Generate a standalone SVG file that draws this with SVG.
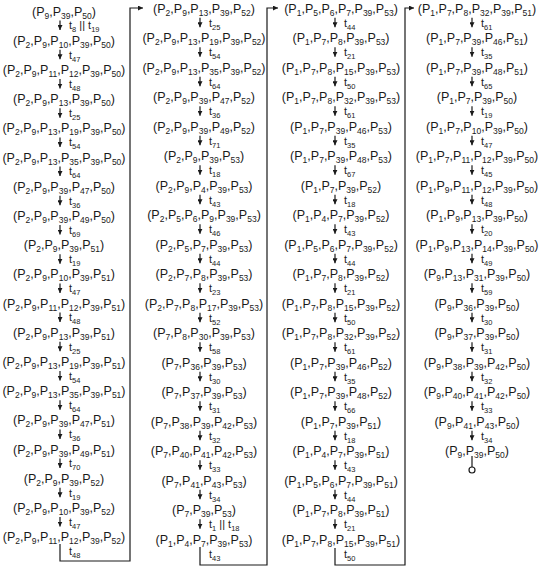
<svg xmlns="http://www.w3.org/2000/svg" width="540" height="566" viewBox="0 0 540 566">
<style>
.m{font-family:"Liberation Sans",Arial,sans-serif;font-size:12.5px;fill:#1a1a1a;text-anchor:middle}
.s{font-size:8.5px;baseline-shift:-3px}
.t{font-family:"Liberation Sans",Arial,sans-serif;font-size:11px;fill:#1a1a1a}
.u{font-size:7.5px;baseline-shift:-2.5px}
.c line,.c path{stroke:#1a1a1a;stroke-width:1.2;fill:none}
.c line{marker-end:url(#ah)}
</style>
<defs>
<marker id="ah" viewBox="0 0 6 6" refX="6" refY="3" markerWidth="5" markerHeight="5" markerUnits="userSpaceOnUse" orient="auto"><path d="M0,0 L6,3 L0,6 z" fill="#1a1a1a"/></marker>
</defs>
<rect width="540" height="566" fill="#fff"/>
<g id="connectors" class="c">
<line x1="60" y1="20.6" x2="60" y2="30.1"/><line x1="60" y1="49.8" x2="60" y2="59.3"/><line x1="60" y1="79" x2="60" y2="88.5"/><line x1="60" y1="108.2" x2="60" y2="117.7"/><line x1="60" y1="137.4" x2="60" y2="146.9"/><line x1="60" y1="166.6" x2="60" y2="176.1"/><line x1="60" y1="195.8" x2="60" y2="205.3"/><line x1="60" y1="225" x2="60" y2="234.5"/><line x1="60" y1="254.2" x2="60" y2="263.7"/><line x1="60" y1="283.4" x2="60" y2="292.9"/><line x1="60" y1="312.6" x2="60" y2="322.1"/><line x1="60" y1="341.8" x2="60" y2="351.3"/><line x1="60" y1="371" x2="60" y2="380.5"/><line x1="60" y1="400.2" x2="60" y2="409.7"/><line x1="60" y1="429.4" x2="60" y2="438.9"/><line x1="60" y1="458.6" x2="60" y2="468.1"/><line x1="60" y1="487.8" x2="60" y2="497.3"/><line x1="60" y1="517" x2="60" y2="526.5"/>
<line x1="200" y1="17.8" x2="200" y2="27.3"/><line x1="200" y1="47.3" x2="200" y2="56.8"/><line x1="200" y1="76.8" x2="200" y2="86.3"/><line x1="200" y1="106.3" x2="200" y2="115.8"/><line x1="200" y1="135.8" x2="200" y2="145.3"/><line x1="200" y1="165.3" x2="200" y2="174.8"/><line x1="200" y1="194.8" x2="200" y2="204.3"/><line x1="200" y1="224.3" x2="200" y2="233.8"/><line x1="200" y1="253.8" x2="200" y2="263.3"/><line x1="200" y1="283.3" x2="200" y2="292.8"/><line x1="200" y1="312.8" x2="200" y2="322.3"/><line x1="200" y1="342.3" x2="200" y2="351.8"/><line x1="200" y1="371.8" x2="200" y2="381.3"/><line x1="200" y1="401.3" x2="200" y2="410.8"/><line x1="200" y1="430.8" x2="200" y2="440.3"/><line x1="200" y1="460.3" x2="200" y2="469.8"/><line x1="200" y1="489.8" x2="200" y2="499.3"/><line x1="200" y1="519.3" x2="200" y2="528.8"/>
<line x1="335" y1="17.8" x2="335" y2="27.3"/><line x1="335" y1="47.3" x2="335" y2="56.8"/><line x1="335" y1="76.8" x2="335" y2="86.3"/><line x1="335" y1="106.3" x2="335" y2="115.8"/><line x1="335" y1="135.8" x2="335" y2="145.3"/><line x1="335" y1="165.3" x2="335" y2="174.8"/><line x1="335" y1="194.8" x2="335" y2="204.3"/><line x1="335" y1="224.3" x2="335" y2="233.8"/><line x1="335" y1="253.8" x2="335" y2="263.3"/><line x1="335" y1="283.3" x2="335" y2="292.8"/><line x1="335" y1="312.8" x2="335" y2="322.3"/><line x1="335" y1="342.3" x2="335" y2="351.8"/><line x1="335" y1="371.8" x2="335" y2="381.3"/><line x1="335" y1="401.3" x2="335" y2="410.8"/><line x1="335" y1="430.8" x2="335" y2="440.3"/><line x1="335" y1="460.3" x2="335" y2="469.8"/><line x1="335" y1="489.8" x2="335" y2="499.3"/><line x1="335" y1="519.3" x2="335" y2="528.8"/>
<line x1="472" y1="17.8" x2="472" y2="27.3"/><line x1="472" y1="47.3" x2="472" y2="56.8"/><line x1="472" y1="76.8" x2="472" y2="86.3"/><line x1="472" y1="106.3" x2="472" y2="115.8"/><line x1="472" y1="135.8" x2="472" y2="145.3"/><line x1="472" y1="165.3" x2="472" y2="174.8"/><line x1="472" y1="194.8" x2="472" y2="204.3"/><line x1="472" y1="224.3" x2="472" y2="233.8"/><line x1="472" y1="253.8" x2="472" y2="263.3"/><line x1="472" y1="283.3" x2="472" y2="292.8"/><line x1="472" y1="312.8" x2="472" y2="322.3"/><line x1="472" y1="342.3" x2="472" y2="351.8"/><line x1="472" y1="371.8" x2="472" y2="381.3"/><line x1="472" y1="401.3" x2="472" y2="410.8"/><line x1="472" y1="430.8" x2="472" y2="440.3"/>
<path d="M60,544 V561 H130 V8 H143" marker-end="url(#ah)"/>
<path d="M200,547 V565 H267 V8 H278" marker-end="url(#ah)"/>
<path d="M335,548 V565 H405 V8 H414" marker-end="url(#ah)"/>
<path d="M472,456 V467"/>
<circle cx="472" cy="470" r="3" fill="#fff" stroke="#1a1a1a" stroke-width="1.2"/>
</g>
<g id="labels" class="t">
<text x="69" y="29.4">t<tspan class="u">8</tspan> || t<tspan class="u">19</tspan></text>
<text x="69" y="58.6">t<tspan class="u">47</tspan></text>
<text x="69" y="87.8">t<tspan class="u">48</tspan></text>
<text x="69" y="117">t<tspan class="u">25</tspan></text>
<text x="69" y="146.2">t<tspan class="u">54</tspan></text>
<text x="69" y="175.4">t<tspan class="u">64</tspan></text>
<text x="69" y="204.6">t<tspan class="u">36</tspan></text>
<text x="69" y="233.8">t<tspan class="u">69</tspan></text>
<text x="69" y="263">t<tspan class="u">19</tspan></text>
<text x="69" y="292.2">t<tspan class="u">47</tspan></text>
<text x="69" y="321.4">t<tspan class="u">48</tspan></text>
<text x="69" y="350.6">t<tspan class="u">25</tspan></text>
<text x="69" y="379.8">t<tspan class="u">54</tspan></text>
<text x="69" y="409">t<tspan class="u">64</tspan></text>
<text x="69" y="438.2">t<tspan class="u">36</tspan></text>
<text x="69" y="467.4">t<tspan class="u">70</tspan></text>
<text x="69" y="496.6">t<tspan class="u">19</tspan></text>
<text x="69" y="525.8">t<tspan class="u">47</tspan></text>
<text x="69" y="555">t<tspan class="u">48</tspan></text>
<text x="209" y="26.6">t<tspan class="u">25</tspan></text>
<text x="209" y="56.1">t<tspan class="u">54</tspan></text>
<text x="209" y="85.6">t<tspan class="u">64</tspan></text>
<text x="209" y="115.1">t<tspan class="u">36</tspan></text>
<text x="209" y="144.6">t<tspan class="u">71</tspan></text>
<text x="209" y="174.1">t<tspan class="u">18</tspan></text>
<text x="209" y="203.6">t<tspan class="u">43</tspan></text>
<text x="209" y="233.1">t<tspan class="u">46</tspan></text>
<text x="209" y="262.6">t<tspan class="u">44</tspan></text>
<text x="209" y="292.1">t<tspan class="u">23</tspan></text>
<text x="209" y="321.6">t<tspan class="u">52</tspan></text>
<text x="209" y="351.1">t<tspan class="u">58</tspan></text>
<text x="209" y="380.6">t<tspan class="u">30</tspan></text>
<text x="209" y="410.1">t<tspan class="u">31</tspan></text>
<text x="209" y="439.6">t<tspan class="u">32</tspan></text>
<text x="209" y="469.1">t<tspan class="u">33</tspan></text>
<text x="209" y="498.6">t<tspan class="u">34</tspan></text>
<text x="209" y="528.1">t<tspan class="u">1</tspan> || t<tspan class="u">18</tspan></text>
<text x="209" y="557.5">t<tspan class="u">43</tspan></text>
<text x="344" y="26.6">t<tspan class="u">44</tspan></text>
<text x="344" y="56.1">t<tspan class="u">21</tspan></text>
<text x="344" y="85.6">t<tspan class="u">50</tspan></text>
<text x="344" y="115.1">t<tspan class="u">61</tspan></text>
<text x="344" y="144.6">t<tspan class="u">35</tspan></text>
<text x="344" y="174.1">t<tspan class="u">67</tspan></text>
<text x="344" y="203.6">t<tspan class="u">18</tspan></text>
<text x="344" y="233.1">t<tspan class="u">43</tspan></text>
<text x="344" y="262.6">t<tspan class="u">44</tspan></text>
<text x="344" y="292.1">t<tspan class="u">21</tspan></text>
<text x="344" y="321.6">t<tspan class="u">50</tspan></text>
<text x="344" y="351.1">t<tspan class="u">61</tspan></text>
<text x="344" y="380.6">t<tspan class="u">35</tspan></text>
<text x="344" y="410.1">t<tspan class="u">66</tspan></text>
<text x="344" y="439.6">t<tspan class="u">18</tspan></text>
<text x="344" y="469.1">t<tspan class="u">43</tspan></text>
<text x="344" y="498.6">t<tspan class="u">44</tspan></text>
<text x="344" y="528.1">t<tspan class="u">21</tspan></text>
<text x="344" y="557.5">t<tspan class="u">50</tspan></text>
<text x="481" y="26.6">t<tspan class="u">61</tspan></text>
<text x="481" y="56.1">t<tspan class="u">35</tspan></text>
<text x="481" y="85.6">t<tspan class="u">65</tspan></text>
<text x="481" y="115.1">t<tspan class="u">19</tspan></text>
<text x="481" y="144.6">t<tspan class="u">47</tspan></text>
<text x="481" y="174.1">t<tspan class="u">45</tspan></text>
<text x="481" y="203.6">t<tspan class="u">48</tspan></text>
<text x="481" y="233.1">t<tspan class="u">20</tspan></text>
<text x="481" y="262.6">t<tspan class="u">49</tspan></text>
<text x="481" y="292.1">t<tspan class="u">59</tspan></text>
<text x="481" y="321.6">t<tspan class="u">30</tspan></text>
<text x="481" y="351.1">t<tspan class="u">31</tspan></text>
<text x="481" y="380.6">t<tspan class="u">32</tspan></text>
<text x="481" y="410.1">t<tspan class="u">33</tspan></text>
<text x="481" y="439.6">t<tspan class="u">34</tspan></text>
</g>
<g class="m">
<g id="a01"><text x="64" y="15.5">(P<tspan class="s">9</tspan>,P<tspan class="s">39</tspan>,P<tspan class="s">50</tspan>)</text></g>
<g id="a02"><text x="64" y="44.7">(P<tspan class="s">2</tspan>,P<tspan class="s">9</tspan>,P<tspan class="s">10</tspan>,P<tspan class="s">39</tspan>,P<tspan class="s">50</tspan>)</text></g>
<g id="a03"><text x="64" y="73.9">(P<tspan class="s">2</tspan>,P<tspan class="s">9</tspan>,P<tspan class="s">11</tspan>,P<tspan class="s">12</tspan>,P<tspan class="s">39</tspan>,P<tspan class="s">50</tspan>)</text></g>
<g id="a04"><text x="64" y="103.1">(P<tspan class="s">2</tspan>,P<tspan class="s">9</tspan>,P<tspan class="s">13</tspan>,P<tspan class="s">39</tspan>,P<tspan class="s">50</tspan>)</text></g>
<g id="a05"><text x="64" y="132.3">(P<tspan class="s">2</tspan>,P<tspan class="s">9</tspan>,P<tspan class="s">13</tspan>,P<tspan class="s">19</tspan>,P<tspan class="s">39</tspan>,P<tspan class="s">50</tspan>)</text></g>
<g id="a06"><text x="64" y="161.5">(P<tspan class="s">2</tspan>,P<tspan class="s">9</tspan>,P<tspan class="s">13</tspan>,P<tspan class="s">35</tspan>,P<tspan class="s">39</tspan>,P<tspan class="s">50</tspan>)</text></g>
<g id="a07"><text x="64" y="190.7">(P<tspan class="s">2</tspan>,P<tspan class="s">9</tspan>,P<tspan class="s">39</tspan>,P<tspan class="s">47</tspan>,P<tspan class="s">50</tspan>)</text></g>
<g id="a08"><text x="64" y="219.9">(P<tspan class="s">2</tspan>,P<tspan class="s">9</tspan>,P<tspan class="s">39</tspan>,P<tspan class="s">49</tspan>,P<tspan class="s">50</tspan>)</text></g>
<g id="a09"><text x="64" y="249.1">(P<tspan class="s">2</tspan>,P<tspan class="s">9</tspan>,P<tspan class="s">39</tspan>,P<tspan class="s">51</tspan>)</text></g>
<g id="a10"><text x="64" y="278.3">(P<tspan class="s">2</tspan>,P<tspan class="s">9</tspan>,P<tspan class="s">10</tspan>,P<tspan class="s">39</tspan>,P<tspan class="s">51</tspan>)</text></g>
<g id="a11"><text x="64" y="307.5">(P<tspan class="s">2</tspan>,P<tspan class="s">9</tspan>,P<tspan class="s">11</tspan>,P<tspan class="s">12</tspan>,P<tspan class="s">39</tspan>,P<tspan class="s">51</tspan>)</text></g>
<g id="a12"><text x="64" y="336.7">(P<tspan class="s">2</tspan>,P<tspan class="s">9</tspan>,P<tspan class="s">13</tspan>,P<tspan class="s">39</tspan>,P<tspan class="s">51</tspan>)</text></g>
<g id="a13"><text x="64" y="365.9">(P<tspan class="s">2</tspan>,P<tspan class="s">9</tspan>,P<tspan class="s">13</tspan>,P<tspan class="s">19</tspan>,P<tspan class="s">39</tspan>,P<tspan class="s">51</tspan>)</text></g>
<g id="a14"><text x="64" y="395.1">(P<tspan class="s">2</tspan>,P<tspan class="s">9</tspan>,P<tspan class="s">13</tspan>,P<tspan class="s">35</tspan>,P<tspan class="s">39</tspan>,P<tspan class="s">51</tspan>)</text></g>
<g id="a15"><text x="64" y="424.3">(P<tspan class="s">2</tspan>,P<tspan class="s">9</tspan>,P<tspan class="s">39</tspan>,P<tspan class="s">47</tspan>,P<tspan class="s">51</tspan>)</text></g>
<g id="a16"><text x="64" y="453.5">(P<tspan class="s">2</tspan>,P<tspan class="s">9</tspan>,P<tspan class="s">39</tspan>,P<tspan class="s">49</tspan>,P<tspan class="s">51</tspan>)</text></g>
<g id="a17"><text x="64" y="482.7">(P<tspan class="s">2</tspan>,P<tspan class="s">9</tspan>,P<tspan class="s">39</tspan>,P<tspan class="s">52</tspan>)</text></g>
<g id="a18"><text x="64" y="511.9">(P<tspan class="s">2</tspan>,P<tspan class="s">9</tspan>,P<tspan class="s">10</tspan>,P<tspan class="s">39</tspan>,P<tspan class="s">52</tspan>)</text></g>
<g id="a19"><text x="64" y="541.1">(P<tspan class="s">2</tspan>,P<tspan class="s">9</tspan>,P<tspan class="s">11</tspan>,P<tspan class="s">12</tspan>,P<tspan class="s">39</tspan>,P<tspan class="s">52</tspan>)</text></g>

<g id="b01"><text x="204" y="12.5">(P<tspan class="s">2</tspan>,P<tspan class="s">9</tspan>,P<tspan class="s">13</tspan>,P<tspan class="s">39</tspan>,P<tspan class="s">52</tspan>)</text></g>
<g id="b02"><text x="204" y="42">(P<tspan class="s">2</tspan>,P<tspan class="s">9</tspan>,P<tspan class="s">13</tspan>,P<tspan class="s">19</tspan>,P<tspan class="s">39</tspan>,P<tspan class="s">52</tspan>)</text></g>
<g id="b03"><text x="204" y="71.5">(P<tspan class="s">2</tspan>,P<tspan class="s">9</tspan>,P<tspan class="s">13</tspan>,P<tspan class="s">35</tspan>,P<tspan class="s">39</tspan>,P<tspan class="s">52</tspan>)</text></g>
<g id="b04"><text x="204" y="101">(P<tspan class="s">2</tspan>,P<tspan class="s">9</tspan>,P<tspan class="s">39</tspan>,P<tspan class="s">47</tspan>,P<tspan class="s">52</tspan>)</text></g>
<g id="b05"><text x="204" y="130.5">(P<tspan class="s">2</tspan>,P<tspan class="s">9</tspan>,P<tspan class="s">39</tspan>,P<tspan class="s">49</tspan>,P<tspan class="s">52</tspan>)</text></g>
<g id="b06"><text x="204" y="160">(P<tspan class="s">2</tspan>,P<tspan class="s">9</tspan>,P<tspan class="s">39</tspan>,P<tspan class="s">53</tspan>)</text></g>
<g id="b07"><text x="204" y="189.5">(P<tspan class="s">2</tspan>,P<tspan class="s">9</tspan>,P<tspan class="s">4</tspan>,P<tspan class="s">39</tspan>,P<tspan class="s">53</tspan>)</text></g>
<g id="b08"><text x="204" y="219">(P<tspan class="s">2</tspan>,P<tspan class="s">5</tspan>,P<tspan class="s">6</tspan>,P<tspan class="s">9</tspan>,P<tspan class="s">39</tspan>,P<tspan class="s">53</tspan>)</text></g>
<g id="b09"><text x="204" y="248.5">(P<tspan class="s">2</tspan>,P<tspan class="s">5</tspan>,P<tspan class="s">7</tspan>,P<tspan class="s">39</tspan>,P<tspan class="s">53</tspan>)</text></g>
<g id="b10"><text x="204" y="278">(P<tspan class="s">2</tspan>,P<tspan class="s">7</tspan>,P<tspan class="s">8</tspan>,P<tspan class="s">39</tspan>,P<tspan class="s">53</tspan>)</text></g>
<g id="b11"><text x="204" y="307.5">(P<tspan class="s">2</tspan>,P<tspan class="s">7</tspan>,P<tspan class="s">8</tspan>,P<tspan class="s">17</tspan>,P<tspan class="s">39</tspan>,P<tspan class="s">53</tspan>)</text></g>
<g id="b12"><text x="204" y="337">(P<tspan class="s">7</tspan>,P<tspan class="s">8</tspan>,P<tspan class="s">30</tspan>,P<tspan class="s">39</tspan>,P<tspan class="s">53</tspan>)</text></g>
<g id="b13"><text x="204" y="366.5">(P<tspan class="s">7</tspan>,P<tspan class="s">36</tspan>,P<tspan class="s">39</tspan>,P<tspan class="s">53</tspan>)</text></g>
<g id="b14"><text x="204" y="396">(P<tspan class="s">7</tspan>,P<tspan class="s">37</tspan>,P<tspan class="s">39</tspan>,P<tspan class="s">53</tspan>)</text></g>
<g id="b15"><text x="204" y="425.5">(P<tspan class="s">7</tspan>,P<tspan class="s">38</tspan>,P<tspan class="s">39</tspan>,P<tspan class="s">42</tspan>,P<tspan class="s">53</tspan>)</text></g>
<g id="b16"><text x="204" y="455">(P<tspan class="s">7</tspan>,P<tspan class="s">40</tspan>,P<tspan class="s">41</tspan>,P<tspan class="s">42</tspan>,P<tspan class="s">53</tspan>)</text></g>
<g id="b17"><text x="204" y="484.5">(P<tspan class="s">7</tspan>,P<tspan class="s">41</tspan>,P<tspan class="s">43</tspan>,P<tspan class="s">53</tspan>)</text></g>
<g id="b18"><text x="204" y="514">(P<tspan class="s">7</tspan>,P<tspan class="s">39</tspan>,P<tspan class="s">53</tspan>)</text></g>
<g id="b19"><text x="204" y="543.5">(P<tspan class="s">1</tspan>,P<tspan class="s">4</tspan>,P<tspan class="s">7</tspan>,P<tspan class="s">39</tspan>,P<tspan class="s">53</tspan>)</text></g>

<g id="c01"><text x="341" y="12.5">(P<tspan class="s">1</tspan>,P<tspan class="s">5</tspan>,P<tspan class="s">6</tspan>,P<tspan class="s">7</tspan>,P<tspan class="s">39</tspan>,P<tspan class="s">53</tspan>)</text></g>
<g id="c02"><text x="341" y="42">(P<tspan class="s">1</tspan>,P<tspan class="s">7</tspan>,P<tspan class="s">8</tspan>,P<tspan class="s">39</tspan>,P<tspan class="s">53</tspan>)</text></g>
<g id="c03"><text x="341" y="71.5">(P<tspan class="s">1</tspan>,P<tspan class="s">7</tspan>,P<tspan class="s">8</tspan>,P<tspan class="s">15</tspan>,P<tspan class="s">39</tspan>,P<tspan class="s">53</tspan>)</text></g>
<g id="c04"><text x="341" y="101">(P<tspan class="s">1</tspan>,P<tspan class="s">7</tspan>,P<tspan class="s">8</tspan>,P<tspan class="s">32</tspan>,P<tspan class="s">39</tspan>,P<tspan class="s">53</tspan>)</text></g>
<g id="c05"><text x="341" y="130.5">(P<tspan class="s">1</tspan>,P<tspan class="s">7</tspan>,P<tspan class="s">39</tspan>,P<tspan class="s">46</tspan>,P<tspan class="s">53</tspan>)</text></g>
<g id="c06"><text x="341" y="160">(P<tspan class="s">1</tspan>,P<tspan class="s">7</tspan>,P<tspan class="s">39</tspan>,P<tspan class="s">48</tspan>,P<tspan class="s">53</tspan>)</text></g>
<g id="c07"><text x="341" y="189.5">(P<tspan class="s">1</tspan>,P<tspan class="s">7</tspan>,P<tspan class="s">39</tspan>,P<tspan class="s">52</tspan>)</text></g>
<g id="c08"><text x="341" y="219">(P<tspan class="s">1</tspan>,P<tspan class="s">4</tspan>,P<tspan class="s">7</tspan>,P<tspan class="s">39</tspan>,P<tspan class="s">52</tspan>)</text></g>
<g id="c09"><text x="341" y="248.5">(P<tspan class="s">1</tspan>,P<tspan class="s">5</tspan>,P<tspan class="s">6</tspan>,P<tspan class="s">7</tspan>,P<tspan class="s">39</tspan>,P<tspan class="s">52</tspan>)</text></g>
<g id="c10"><text x="341" y="278">(P<tspan class="s">1</tspan>,P<tspan class="s">7</tspan>,P<tspan class="s">8</tspan>,P<tspan class="s">39</tspan>,P<tspan class="s">52</tspan>)</text></g>
<g id="c11"><text x="341" y="307.5">(P<tspan class="s">1</tspan>,P<tspan class="s">7</tspan>,P<tspan class="s">8</tspan>,P<tspan class="s">15</tspan>,P<tspan class="s">39</tspan>,P<tspan class="s">52</tspan>)</text></g>
<g id="c12"><text x="341" y="337">(P<tspan class="s">1</tspan>,P<tspan class="s">7</tspan>,P<tspan class="s">8</tspan>,P<tspan class="s">32</tspan>,P<tspan class="s">39</tspan>,P<tspan class="s">52</tspan>)</text></g>
<g id="c13"><text x="341" y="366.5">(P<tspan class="s">1</tspan>,P<tspan class="s">7</tspan>,P<tspan class="s">39</tspan>,P<tspan class="s">46</tspan>,P<tspan class="s">52</tspan>)</text></g>
<g id="c14"><text x="341" y="396">(P<tspan class="s">1</tspan>,P<tspan class="s">7</tspan>,P<tspan class="s">39</tspan>,P<tspan class="s">48</tspan>,P<tspan class="s">52</tspan>)</text></g>
<g id="c15"><text x="341" y="425.5">(P<tspan class="s">1</tspan>,P<tspan class="s">7</tspan>,P<tspan class="s">39</tspan>,P<tspan class="s">51</tspan>)</text></g>
<g id="c16"><text x="341" y="455">(P<tspan class="s">1</tspan>,P<tspan class="s">4</tspan>,P<tspan class="s">7</tspan>,P<tspan class="s">39</tspan>,P<tspan class="s">51</tspan>)</text></g>
<g id="c17"><text x="341" y="484.5">(P<tspan class="s">1</tspan>,P<tspan class="s">5</tspan>,P<tspan class="s">6</tspan>,P<tspan class="s">7</tspan>,P<tspan class="s">39</tspan>,P<tspan class="s">51</tspan>)</text></g>
<g id="c18"><text x="341" y="514">(P<tspan class="s">1</tspan>,P<tspan class="s">7</tspan>,P<tspan class="s">8</tspan>,P<tspan class="s">39</tspan>,P<tspan class="s">51</tspan>)</text></g>
<g id="c19"><text x="341" y="543.5">(P<tspan class="s">1</tspan>,P<tspan class="s">7</tspan>,P<tspan class="s">8</tspan>,P<tspan class="s">15</tspan>,P<tspan class="s">39</tspan>,P<tspan class="s">51</tspan>)</text></g>

<g id="d01"><text x="477" y="12.5">(P<tspan class="s">1</tspan>,P<tspan class="s">7</tspan>,P<tspan class="s">8</tspan>,P<tspan class="s">32</tspan>,P<tspan class="s">39</tspan>,P<tspan class="s">51</tspan>)</text></g>
<g id="d02"><text x="477" y="42">(P<tspan class="s">1</tspan>,P<tspan class="s">7</tspan>,P<tspan class="s">39</tspan>,P<tspan class="s">46</tspan>,P<tspan class="s">51</tspan>)</text></g>
<g id="d03"><text x="477" y="71.5">(P<tspan class="s">1</tspan>,P<tspan class="s">7</tspan>,P<tspan class="s">39</tspan>,P<tspan class="s">48</tspan>,P<tspan class="s">51</tspan>)</text></g>
<g id="d04"><text x="477" y="101">(P<tspan class="s">1</tspan>,P<tspan class="s">7</tspan>,P<tspan class="s">39</tspan>,P<tspan class="s">50</tspan>)</text></g>
<g id="d05"><text x="477" y="130.5">(P<tspan class="s">1</tspan>,P<tspan class="s">7</tspan>,P<tspan class="s">10</tspan>,P<tspan class="s">39</tspan>,P<tspan class="s">50</tspan>)</text></g>
<g id="d06"><text x="477" y="160">(P<tspan class="s">1</tspan>,P<tspan class="s">7</tspan>,P<tspan class="s">11</tspan>,P<tspan class="s">12</tspan>,P<tspan class="s">39</tspan>,P<tspan class="s">50</tspan>)</text></g>
<g id="d07"><text x="477" y="189.5">(P<tspan class="s">1</tspan>,P<tspan class="s">9</tspan>,P<tspan class="s">11</tspan>,P<tspan class="s">12</tspan>,P<tspan class="s">39</tspan>,P<tspan class="s">50</tspan>)</text></g>
<g id="d08"><text x="477" y="219">(P<tspan class="s">1</tspan>,P<tspan class="s">9</tspan>,P<tspan class="s">13</tspan>,P<tspan class="s">39</tspan>,P<tspan class="s">50</tspan>)</text></g>
<g id="d09"><text x="477" y="248.5">(P<tspan class="s">1</tspan>,P<tspan class="s">9</tspan>,P<tspan class="s">13</tspan>,P<tspan class="s">14</tspan>,P<tspan class="s">39</tspan>,P<tspan class="s">50</tspan>)</text></g>
<g id="d10"><text x="477" y="278">(P<tspan class="s">9</tspan>,P<tspan class="s">13</tspan>,P<tspan class="s">31</tspan>,P<tspan class="s">39</tspan>,P<tspan class="s">50</tspan>)</text></g>
<g id="d11"><text x="477" y="307.5">(P<tspan class="s">9</tspan>,P<tspan class="s">36</tspan>,P<tspan class="s">39</tspan>,P<tspan class="s">50</tspan>)</text></g>
<g id="d12"><text x="477" y="337">(P<tspan class="s">9</tspan>,P<tspan class="s">37</tspan>,P<tspan class="s">39</tspan>,P<tspan class="s">50</tspan>)</text></g>
<g id="d13"><text x="477" y="366.5">(P<tspan class="s">9</tspan>,P<tspan class="s">38</tspan>,P<tspan class="s">39</tspan>,P<tspan class="s">42</tspan>,P<tspan class="s">50</tspan>)</text></g>
<g id="d14"><text x="477" y="396">(P<tspan class="s">9</tspan>,P<tspan class="s">40</tspan>,P<tspan class="s">41</tspan>,P<tspan class="s">42</tspan>,P<tspan class="s">50</tspan>)</text></g>
<g id="d15"><text x="477" y="425.5">(P<tspan class="s">9</tspan>,P<tspan class="s">41</tspan>,P<tspan class="s">43</tspan>,P<tspan class="s">50</tspan>)</text></g>
<g id="d16"><text x="477" y="455">(P<tspan class="s">9</tspan>,P<tspan class="s">39</tspan>,P<tspan class="s">50</tspan>)</text></g>
</g>
</svg>
